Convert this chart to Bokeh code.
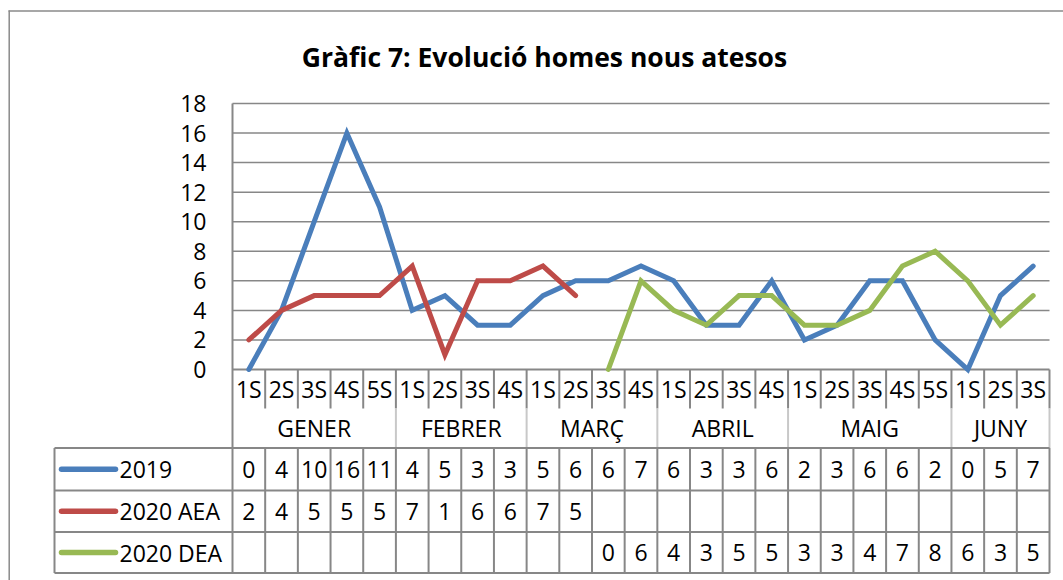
from bokeh.plotting import figure
from bokeh.models import Range1d
from bokeh.core.properties import value
from bokeh.embed import file_html
from bokeh.resources import INLINE
import numpy as np

# ---------------- data ----------------
title = "Gràfic 7: Evolució homes nous atesos"
months = ["GENER", "FEBRER", "MARÇ", "ABRIL", "MAIG", "JUNY"]
weeks_per_month = [5, 4, 4, 4, 5, 3]
weeks = [f"{i + 1}S" for n in weeks_per_month for i in range(n)]
s2019 = [0, 4, 10, 16, 11, 4, 5, 3, 3, 5, 6, 6, 7, 6, 3, 3, 6, 2, 3, 6, 6, 2, 0, 5, 7]
s2020_aea = [2, 4, 5, 5, 5, 7, 1, 6, 6, 7, 5] + [None] * 14
s2020_dea = [None] * 11 + [0, 6, 4, 3, 5, 5, 3, 3, 4, 7, 8, 6, 3, 5]
series_names = ["2019", "2020 AEA", "2020 DEA"]
series = [s2019, s2020_aea, s2020_dea]
colors = ["#4A7EBB", "#BE4B48", "#98B954"]
y_ticks = list(range(0, 20, 2))

# ---------------- layout (page pixels) ----------------
W, H = 1063, 580
ORIGIN = 0  # page offset of the canvas
PLOT_L, PLOT_R = 232.0, 1049.0
PLOT_T, PLOT_B = 103.0, 369.0
N = len(weeks)
SX = (PLOT_R - PLOT_L) / N
SY = (PLOT_B - PLOT_T) / 18.0


def X(px):
    return (px - PLOT_L) / SX


def Y(py):
    return (PLOT_B - py) / SY


FONT = value("Open Sans")
FS = "23px"
GRID = "#878787"
LIGHT = "#C8C8C8"

p = figure(width=W, height=H, output_backend="svg", toolbar_location=None,
           x_range=Range1d(X(ORIGIN), X(ORIGIN + W)), y_range=Range1d(Y(ORIGIN + H), Y(ORIGIN)),
           x_axis_type=None, y_axis_type=None, min_border=0)
p.outline_line_color = None
p.xgrid.visible = False
p.ygrid.visible = False
p.background_fill_color = "white"

# outer chart border (left + top)
p.segment(x0=[X(8.7), X(8)], y0=[Y(10), Y(10.5)], x1=[X(8.7), X(ORIGIN + W)], y1=[Y(ORIGIN + H), Y(10.5)],
          line_color="#8A8A8A", line_width=1.5)

# title
p.text(x=[X(544)], y=[Y(56)], text=[title], text_font=FONT, text_font_style="bold",
       text_font_size="26.5px", text_align="center", text_baseline="alphabetic", text_color="black")

# gridlines
gy = [t for t in y_ticks if t > 0]
p.segment(x0=[0] * len(gy), y0=gy, x1=[N] * len(gy), y1=gy, line_color=GRID, line_width=1.5)
p.segment(x0=[0], y0=[0], x1=[N], y1=[0], line_color=GRID, line_width=2)

# y tick labels
p.text(x=[X(206)] * len(y_ticks), y=y_ticks, text=[str(t) for t in y_ticks], text_font=FONT,
       text_font_size=FS, text_align="right", text_baseline="middle", text_color="black")

# table geometry
WEEK_B = 408.0
TAB_T, TAB_R1, TAB_R2, TAB_B = 447.5, 490.0, 531.5, 572.5
LEG_L = 54.0
row_tops = [TAB_T, TAB_R1, TAB_R2]
row_bots = [TAB_R1, TAB_R2, TAB_B]

bounds = list(range(1, N + 1))
month_ends = [int(v) for v in np.cumsum(weeks_per_month)]
month_starts = [0] + month_ends[:-1]

# left axis line, full height
p.segment(x0=[0], y0=[Y(PLOT_T)], x1=[0], y1=[Y(TAB_B)], line_color=GRID, line_width=2)
# week-row separators
p.segment(x0=bounds, y0=[0] * N, x1=bounds, y1=[Y(WEEK_B)] * N, line_color=GRID, line_width=2)
# month-row separators
p.segment(x0=month_ends, y0=[Y(WEEK_B)] * len(month_ends), x1=month_ends, y1=[Y(TAB_T)] * len(month_ends),
          line_color=LIGHT, line_width=2)
# data table verticals
p.segment(x0=bounds + [X(LEG_L)], y0=[Y(TAB_T)] * (N + 1), x1=bounds + [X(LEG_L)], y1=[Y(TAB_B)] * (N + 1),
          line_color=GRID, line_width=2)
# data table horizontals
hl = [TAB_T, TAB_R1, TAB_R2, TAB_B]
p.segment(x0=[X(LEG_L)] * 4, y0=[Y(v) for v in hl], x1=[N] * 4, y1=[Y(v) for v in hl],
          line_color=GRID, line_width=2)

centers = [i + 0.5 for i in range(N)]
# week labels
p.text(x=centers, y=[Y(388)] * N, text=weeks, text_font=FONT, text_font_size=FS,
       text_align="center", text_baseline="middle", text_color="black")
# month labels
p.text(x=[(a + b) / 2 for a, b in zip(month_starts, month_ends)], y=[Y(427)] * len(months), text=months,
       text_font=FONT, text_font_size=FS, text_align="center", text_baseline="middle", text_color="black")

# series lines + table rows
for name, vals, col, rt, rb in zip(series_names, series, colors, row_tops, row_bots):
    yv = np.array([np.nan if v is None else v for v in vals], dtype=float)
    p.line(x=centers, y=yv, line_color=col, line_width=5, line_join="miter", line_cap="round")
    ym = Y((rt + rb) / 2)
    xs = [c for c, v in zip(centers, vals) if v is not None]
    ts = [str(v) for v in vals if v is not None]
    p.text(x=xs, y=[ym] * len(xs), text=ts, text_font=FONT, text_font_size=FS,
           text_align="center", text_baseline="middle", text_color="black")
    p.segment(x0=[X(61)], y0=[ym], x1=[X(115)], y1=[ym], line_color=col, line_width=5.5, line_cap="round")
    p.text(x=[X(119)], y=[ym], text=[name], text_font=FONT, text_font_size=FS,
           text_align="left", text_baseline="middle", text_color="black")

open("out.html", "w").write(file_html(p, INLINE))
